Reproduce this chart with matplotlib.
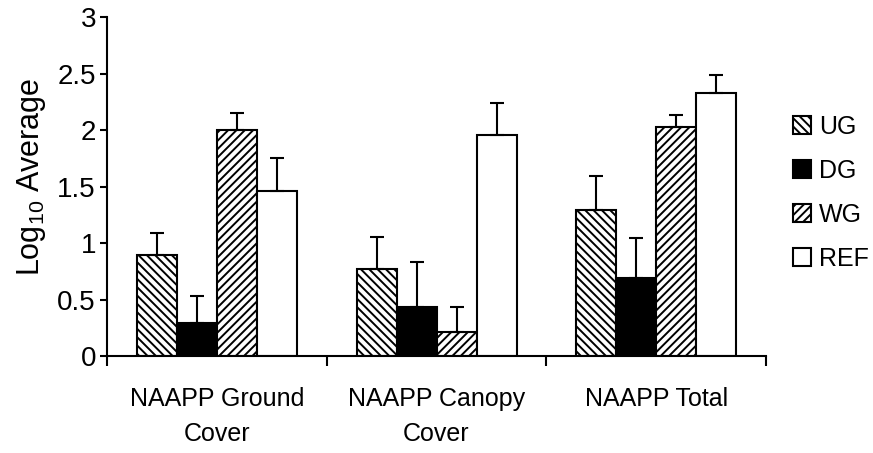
import numpy as np
import matplotlib
matplotlib.use("Agg")
import matplotlib.pyplot as plt
from matplotlib.patches import Patch

plt.rcParams["font.family"] = ["Liberation Sans", "DejaVu Sans"]
plt.rcParams["mathtext.fontset"] = "custom"
plt.rcParams["mathtext.rm"] = "Liberation Sans"
plt.rcParams["hatch.linewidth"] = 1.4

categories = ["NAAPP Ground\nCover", "NAAPP Canopy\nCover", "NAAPP Total"]
series = ["UG", "DG", "WG", "REF"]

# bar heights and upper error
ug = [0.89, 0.77, 1.29]
dg = [0.29, 0.43, 0.69]
wg = [2.00, 0.21, 2.03]
ref = [1.46, 1.96, 2.33]

ug_err = [0.20, 0.28, 0.30]
dg_err = [0.24, 0.40, 0.35]
wg_err = [0.15, 0.22, 0.10]
ref_err = [0.29, 0.28, 0.16]

values = [ug, dg, wg, ref]
errors = [ug_err, dg_err, wg_err, ref_err]
fills = ["white", "black", "white", "white"]
hatches = ["\\\\\\\\", None, "////", None]

fig = plt.figure(figsize=(8.73, 4.53), dpi=100)
ax = fig.add_axes([0.1226, 0.2141, 0.7549, 0.7483])

x = np.arange(len(categories))
w = 0.182
for i in range(len(series)):
    pos = x + (i - 1.5) * w
    ax.bar(pos, values[i], width=w, color=fills[i], edgecolor="black",
           linewidth=1.5, hatch=hatches[i], zorder=2)
    ax.errorbar(pos, values[i], yerr=[np.zeros(len(x)), errors[i]], fmt="none",
                ecolor="black", elinewidth=1.5, capsize=5, capthick=1.5, zorder=3)

ax.set_xlim(-0.5, 2.5)
ax.set_ylim(0, 3)
ax.set_yticks([0, 0.5, 1, 1.5, 2, 2.5, 3])
ax.set_yticklabels(["0", "0.5", "1", "1.5", "2", "2.5", "3"])
ax.tick_params(axis="y", labelsize=20, length=5, width=1.5, pad=3, direction="out")

ax.set_xticks(x)
ax.set_xticklabels(categories, fontsize=18, linespacing=1.6)
ax.tick_params(axis="x", which="major", length=0, pad=22)
ax.set_xticks([-0.5, 0.5, 1.5, 2.5], minor=True)
ax.tick_params(axis="x", which="minor", length=7, width=1.5, direction="out")

for s in ["top", "right"]:
    ax.spines[s].set_visible(False)
for s in ["left", "bottom"]:
    ax.spines[s].set_linewidth(1.5)

ax.set_ylabel("Log$_{10}$ Average", fontsize=22)
ax.yaxis.set_label_coords(-0.09, 0.53)

handles = [Patch(facecolor=fills[i], edgecolor="black", linewidth=1.5, hatch=hatches[i])
           for i in range(len(series))]
fig.legend(handles, series, loc="center left", bbox_to_anchor=(0.908, 0.575),
           frameon=False, fontsize=18, handlelength=0.75, handleheight=0.75,
           handletextpad=0.3, labelspacing=0.8, borderpad=0, borderaxespad=0)

fig.savefig("out.png", dpi=100)
